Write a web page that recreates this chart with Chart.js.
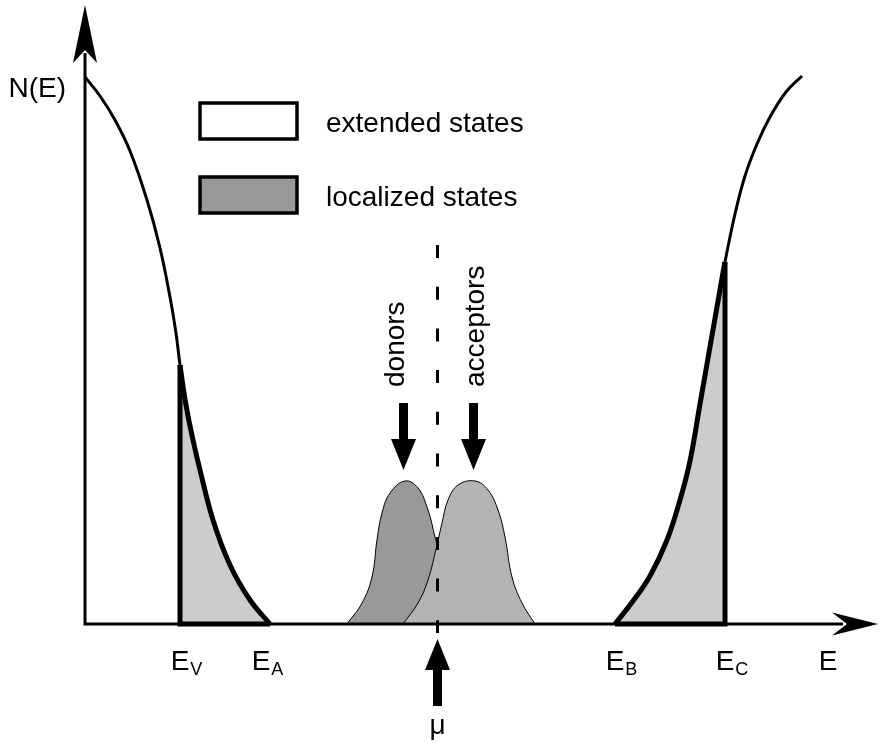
<!DOCTYPE html>
<html><head><meta charset="utf-8">
<script src="https://cdn.jsdelivr.net/npm/chart.js@4.4.1/dist/chart.umd.min.js"></script>
<style>html,body{margin:0;padding:0;background:#fff;overflow:hidden}#wrap{width:880px;height:742px}</style>
</head><body><div id="wrap"><canvas id="c" width="880" height="742"></canvas></div>
<script>
// ---- data: energy E and density of states N(E), arbitrary units ----
const valenceE    = [0, 1.5, 3.0, 4.5, 6.2, 7.5, 8.5, 9.1, 9.5, 10.1, 10.8, 11.5, 12.8, 14.5, 16.5, 18.5];
const valenceN    = [54.7, 52.8, 50.4, 47.3, 42.4, 37.6, 32.7, 29.1, 25.9, 21.9, 18.4, 15.4, 10.4, 5.9, 2.4, 0];
const conductionE = [53.0, 54.8, 56.5, 58.2, 59.5, 60.5, 61.5, 62.2, 63.2, 64.0, 65.0, 66.0, 67.2, 68.5, 70.1, 71.7];
const conductionN = [0, 2.3, 4.8, 8.4, 12.4, 16.3, 22.0, 26.0, 31.7, 36.2, 41.0, 44.8, 48.0, 50.7, 53.2, 54.8];
const donorE      = [26.2, 27.7, 28.7, 29.2, 29.7, 30.5, 32.0, 33.3, 34.3, 35.0, 35.2, 35.6, 36.4, 37.8];
const donorN      = [0, 2.1, 4.7, 8.4, 11.1, 13.1, 14.3, 13.6, 11.4, 8.7, 7.9, 4.7, 2.1, 0];
const acceptorE   = [31.8, 33.3, 34.3, 35.2, 35.7, 36.3, 37.3, 39.0, 40.3, 41.3, 42.0, 42.7, 43.7, 45.0];
const acceptorN   = [0, 2.1, 4.4, 7.9, 10.1, 12.4, 13.9, 14.3, 13.4, 11.4, 8.7, 4.7, 2.1, 0];

// characteristic energies (tick labels on the E axis)
const levelNames = ['E', 'E', 'μ', 'E', 'E'];
const levelSubs  = ['V', 'A', '', 'B', 'C'];
const levelE     = [9.5, 18.5, 35.25, 53.0, 64.0];
const muIndex    = 2;
const muLineN    = [37.9, -0.9];

// peak annotations
const peakLabels = ['donors', 'acceptors'];
const peakE      = [32.0, 39.0];
const peakMaxN   = 14.3;

// axes
const axisTitles = ['N(E)', 'E'];
const axisMaxE   = 79.3;
const axisMaxN   = 61.9;
const axisTitleE = 74.3;

// legend
const legendLabels = ['extended states', 'localized states'];
const legendFills  = ['#ffffff', '#999999'];

// ---- build ----
const pts = (xs, ys) => xs.map((v, i) => ({x: v, y: ys[i]}));
const EV_INDEX = valenceE.indexOf(levelE[0]);
const EC_INDEX = conductionE.indexOf(levelE[4]);
const FONT = '"Liberation Sans", Arial, sans-serif';
const clear = 'rgba(0,0,0,0)';

const decor = {
  id: 'decor',
  afterDatasetsDraw(chart) {
    const {ctx, scales: {x, y}} = chart;
    const X = v => x.getPixelForValue(v), Y = v => y.getPixelForValue(v);
    const x0 = X(0), y0 = Y(0), xt = X(axisMaxE), yt = Y(axisMaxN);
    ctx.save();
    ctx.fillStyle = '#000'; ctx.strokeStyle = '#000';
    // axes
    ctx.lineWidth = 3; ctx.lineCap = 'butt';
    ctx.beginPath();
    ctx.moveTo(x0 - 1.5, y0); ctx.lineTo(xt - 35, y0);
    ctx.moveTo(x0, y0 + 1.5); ctx.lineTo(x0, yt + 48);
    ctx.stroke();
    ctx.beginPath();
    ctx.moveTo(xt, y0); ctx.lineTo(xt - 46, y0 - 11.5); ctx.lineTo(xt - 31, y0); ctx.lineTo(xt - 46, y0 + 11.5); ctx.closePath(); ctx.fill();
    ctx.beginPath();
    ctx.moveTo(x0, yt); ctx.lineTo(x0 - 12, yt + 58); ctx.lineTo(x0, yt + 45); ctx.lineTo(x0 + 12, yt + 58); ctx.closePath(); ctx.fill();

    // block arrows
    const arrow = (cx, tip, dir) => {
      const tail = tip - dir * 67, hb = tip - dir * 31;
      ctx.beginPath();
      ctx.moveTo(cx - 4.5, tail); ctx.lineTo(cx + 4.5, tail); ctx.lineTo(cx + 4.5, hb);
      ctx.lineTo(cx + 12.5, hb); ctx.lineTo(cx, tip); ctx.lineTo(cx - 12.5, hb);
      ctx.lineTo(cx - 4.5, hb); ctx.closePath(); ctx.fill();
    };
    const peakTop = Y(peakMaxN);
    peakE.forEach(e => arrow(X(e) - 1.5, peakTop - 11, 1));
    arrow(X(levelE[muIndex]), y0 + 15, -1);

    // texts
    ctx.textBaseline = 'alphabetic';
    ctx.font = '28px ' + FONT;
    ctx.textAlign = 'right';
    ctx.fillText(axisTitles[0], x0 - 19, yt + 92);
    ctx.textAlign = 'center';
    ctx.fillText(axisTitles[1], X(axisTitleE), y0 + 46);

    const nudge = [0, -9, 0, 0, 0];
    levelNames.forEach((nm, i) => {
      const cx = X(levelE[i]) + nudge[i];
      ctx.font = '28px ' + FONT;
      if (i === muIndex) {
        ctx.textAlign = 'center';
        ctx.fillText(nm, cx, y0 + 110);
        return;
      }
      ctx.textAlign = 'center';
      ctx.fillText(nm, cx, y0 + 46);
      const w = ctx.measureText(nm).width;
      ctx.font = '18px ' + FONT;
      ctx.textAlign = 'left';
      ctx.fillText(levelSubs[i], cx + w / 2 + 1, y0 + 51);
    });

    // rotated peak labels
    const peakDx = [-1, 9];
    ctx.font = '28px ' + FONT;
    peakLabels.forEach((t, i) => {
      ctx.save();
      ctx.translate(X(peakE[i]) + peakDx[i], peakTop - 94);
      ctx.rotate(-Math.PI / 2);
      ctx.textAlign = 'left';
      ctx.fillText(t, 0, 0);
      ctx.restore();
    });

    // legend
    const boxY = [103, 177];
    legendLabels.forEach((t, i) => {
      ctx.fillStyle = legendFills[i];
      ctx.fillRect(200, boxY[i], 97, 36);
      ctx.lineWidth = 3.5; ctx.strokeStyle = '#000';
      ctx.strokeRect(200, boxY[i], 97, 36);
      ctx.fillStyle = '#000';
      ctx.font = '28px ' + FONT;
      ctx.textAlign = 'left';
      ctx.fillText(t, 326, boxY[i] + 29);
    });
    ctx.restore();
  }
};

new Chart(document.getElementById('c'), {
  type: 'line',
  data: {
    datasets: [
      { // valence band
        data: pts(valenceE, valenceN), borderColor: '#000', borderWidth: 3,
        fill: 'origin', backgroundColor: clear, tension: 0.4,
        segment: {
          borderWidth: c => c.p0DataIndex >= EV_INDEX ? 5 : 3,
          backgroundColor: c => c.p0DataIndex >= EV_INDEX ? '#cccccc' : clear
        },
        order: 6
      },
      { // valence mobility edge
        data: [{x: levelE[1], y: 0}, {x: levelE[0], y: 0}, {x: levelE[0], y: valenceN[EV_INDEX]}],
        borderColor: '#000', borderWidth: 5, tension: 0, fill: false, borderJoinStyle: 'miter', order: 5
      },
      { // conduction band
        data: pts(conductionE, conductionN), borderColor: '#000', borderWidth: 3,
        fill: 'origin', backgroundColor: clear, tension: 0.4,
        segment: {
          borderWidth: c => c.p1DataIndex <= EC_INDEX ? 5 : 3,
          backgroundColor: c => c.p1DataIndex <= EC_INDEX ? '#cccccc' : clear
        },
        order: 6
      },
      { // conduction mobility edge
        data: [{x: levelE[3], y: 0}, {x: levelE[4], y: 0}, {x: levelE[4], y: conductionN[EC_INDEX]}],
        borderColor: '#000', borderWidth: 5, tension: 0, fill: false, borderJoinStyle: 'miter', order: 5
      },
      { // donors
        data: pts(donorE, donorN), borderColor: '#000', borderWidth: 1,
        fill: 'origin', backgroundColor: '#999999', tension: 0.4, order: 4
      },
      { // acceptors
        data: pts(acceptorE, acceptorN), borderColor: '#000', borderWidth: 1,
        fill: 'origin', backgroundColor: '#b3b3b3', tension: 0.4, order: 3
      },
      { // chemical potential
        data: [{x: levelE[muIndex], y: muLineN[0]}, {x: levelE[muIndex], y: muLineN[1]}],
        borderColor: '#000', borderWidth: 3, borderDash: [13, 28.7], fill: false, order: 1
      }
    ]
  },
  options: {
    responsive: false, animation: false, events: [],
    layout: {padding: 0},
    elements: {point: {radius: 0, hoverRadius: 0}},
    scales: {
      x: {type: 'linear', min: -8.5, max: 79.5, display: false},
      y: {type: 'linear', min: -11.8, max: 62.4, display: false}
    },
    plugins: {legend: {display: false}, tooltip: {enabled: false}}
  },
  plugins: [decor]
});
</script>
</body></html>
